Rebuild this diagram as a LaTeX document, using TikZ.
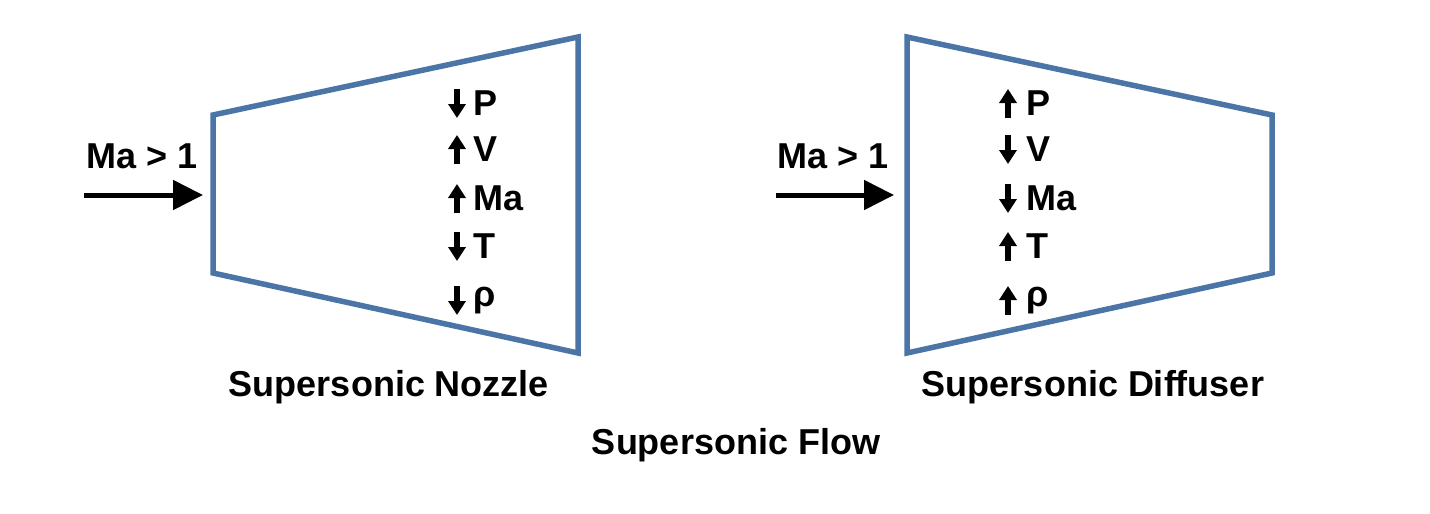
\documentclass[tikz,border=0pt]{standalone}
\usepackage{fontspec}
\setmainfont{Liberation Sans}
\usetikzlibrary{arrows.meta}
\definecolor{wall}{RGB}{74,117,166}
\tikzset{
  wallline/.style={draw=wall, line width=5.5pt, line join=miter},
  flowarrow/.style={line width=5pt, -{Triangle[length=30pt,width=29pt]}},
  updown/.style={line width=5.5pt, -{Triangle[length=14pt,width=17pt]}},
  lbl/.style={font=\fontsize{36}{43}\selectfont\bfseries, inner sep=0pt, anchor=base west},
  title/.style={font=\fontsize{36}{43}\selectfont\bfseries, inner sep=0pt},
}
\begin{document}
\begin{tikzpicture}[x=1pt,y=-1pt]
\useasboundingbox (0,0) rectangle (1430,514);
% nozzle
\draw[wallline] (213,115) coordinate (n1) -- (578,37) coordinate (n2) -- (578,353) coordinate (n3) -- (213,273) coordinate (n4) -- cycle;
% diffuser
\draw[wallline] (907,37) coordinate (d1) -- (1272,115) coordinate (d2) -- (1272,273) coordinate (d3) -- (907,353) coordinate (d4) -- cycle;
% inlet arrows
\node[lbl] (ma1) at (86,168) {Ma > 1};
\coordinate (a1s) at (84,195);
\coordinate (a1e) at (203,195);
\draw[flowarrow] (a1s) -- (a1e);
\node[lbl] (ma2) at (777,168) {Ma > 1};
\coordinate (a2s) at (776,195);
\coordinate (a2e) at (894,195);
\draw[flowarrow] (a2s) -- (a2e);
% nozzle labels
\node[lbl] (nP) at (473,115) {P};
\node[lbl] (nV) at (473,161) {V};
\node[lbl] (nMa) at (473,210) {Ma};
\node[lbl] (nT) at (473,258) {T};
\node[lbl] (nR) at (473,306) {ρ};
\coordinate (nPt) at (457,89); \coordinate (nPb) at (457,118);
\coordinate (nVt) at (457,135); \coordinate (nVb) at (457,164);
\coordinate (nMt) at (457,184); \coordinate (nMb) at (457,213);
\coordinate (nTt) at (457,232); \coordinate (nTb) at (457,261);
\coordinate (nRt) at (457,286); \coordinate (nRb) at (457,315);
\draw[updown] (nPt) -- (nPb);
\draw[updown] (nVb) -- (nVt);
\draw[updown] (nMb) -- (nMt);
\draw[updown] (nTt) -- (nTb);
\draw[updown] (nRt) -- (nRb);
% diffuser labels
\node[lbl] (dP) at (1026,115) {P};
\node[lbl] (dV) at (1026,161) {V};
\node[lbl] (dMa) at (1026,210) {Ma};
\node[lbl] (dT) at (1026,258) {T};
\node[lbl] (dR) at (1026,306) {ρ};
\coordinate (dPt) at (1008,89); \coordinate (dPb) at (1008,118);
\coordinate (dVt) at (1008,135); \coordinate (dVb) at (1008,164);
\coordinate (dMt) at (1008,184); \coordinate (dMb) at (1008,213);
\coordinate (dTt) at (1008,232); \coordinate (dTb) at (1008,261);
\coordinate (dRt) at (1008,286); \coordinate (dRb) at (1008,315);
\draw[updown] (dPb) -- (dPt);
\draw[updown] (dVt) -- (dVb);
\draw[updown] (dMt) -- (dMb);
\draw[updown] (dTb) -- (dTt);
\draw[updown] (dRb) -- (dRt);
% titles
\node[title] (tn) at (389,387) {Supersonic Nozzle};
\node[title] (td) at (1093,387) {Supersonic Diffuser};
\node[title] (tf) at (736,445) {Supersonic Flow};
\end{tikzpicture}
\end{document}
